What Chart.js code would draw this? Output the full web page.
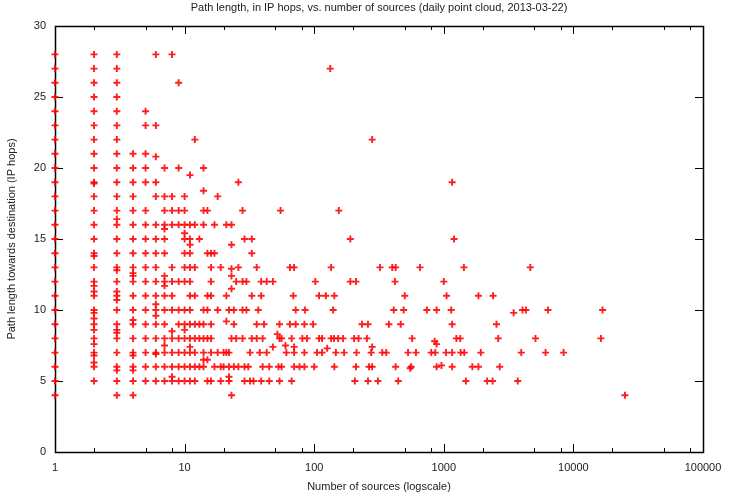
<!DOCTYPE html>
<html>
<head>
<meta charset="utf-8">
<script src="https://cdn.jsdelivr.net/npm/chart.js@4/dist/chart.umd.min.js"></script>
<style>
  html, body { margin: 0; padding: 0; background: #fff; }
  #wrap { width: 732px; height: 498px; }
</style>
</head>
<body>
<div id="wrap"><canvas id="hopsChart" width="732" height="498"></canvas></div>
<script>
// Number of sources seen at each path length (one array per hop count)
const hop28 = [1, 2, 3, 6, 8];
const hop27 = [1, 2, 3, 133];
const hop26 = [1, 2, 3, 9];
const hop25 = [1, 2, 3];
const hop24 = [1, 2, 3, 5];
const hop23 = [1, 2, 3, 5, 6];
const hop22 = [1, 2, 3, 12, 280];
const hop21 = [1, 2, 3, 4, 5];
const hop20 = [1, 2, 3, 4, 5, 7, 9, 14];
const hop19 = [1, 2, 3, 4, 5, 6, 26, 1160];
const hop18 = [1, 2, 3, 4, 6, 7, 8, 10, 18];
const hop17 = [1, 2, 3, 4, 5, 7, 8, 9, 10, 14, 15, 28, 55, 155];
const hop16 = [1, 2, 3, 4, 5, 6, 7, 8, 9, 10, 11, 12, 14, 17, 21, 23];
const hop15 = [1, 2, 3, 4, 5, 6, 7, 10, 11, 13, 29, 33, 190, 1200];
const hop14 = [1, 2, 3, 4, 5, 6, 7, 10, 11, 15, 16, 17, 33];
const hop13 = [1, 2, 3, 4, 5, 6, 8, 10, 11, 12, 16, 19, 26, 36, 65, 70, 135, 322, 400, 425, 655, 1430, 4650];
const hop12 = [1, 2, 3, 4, 5, 6, 7, 8, 9, 10, 11, 16, 25, 28, 30, 39, 43, 48, 102, 190, 210, 420, 1000];
const hop11 = [1, 2, 3, 4, 5, 6, 7, 8, 11, 12, 15, 16, 21, 33, 39, 69, 109, 123, 143, 500, 1050, 1850, 2400];
const hop10 = [1, 2, 3, 4, 5, 6, 7, 8, 9, 10, 11, 14, 15, 18, 22, 24, 28, 30, 37, 72, 85, 140, 411, 490, 740, 880, 1140, 4050, 4300, 6360, 16800];
const hop9 = [1, 2, 3, 4, 5, 6, 7, 9, 10, 11, 12, 13, 14, 16, 24, 36, 41, 54, 65, 72, 84, 98, 234, 260, 377, 465, 1160, 2550];
const hop8 = [1, 2, 3, 4, 5, 6, 7, 8, 9, 10, 11, 12, 13, 14, 15, 16, 23, 25, 28, 33, 36, 40, 54, 56, 67, 81, 88, 109, 115, 135, 142, 153, 167, 203, 220, 255, 570, 1250, 1340, 2630, 5100, 16300];
const hop7 = [1, 2, 3, 4, 5, 6, 7, 8, 9, 10, 11, 12, 14, 16, 18, 20, 21, 22, 32, 38, 43, 61, 70, 84, 105, 115, 147, 170, 212, 275, 335, 360, 530, 610, 800, 860, 1040, 1160, 1350, 1440, 1930, 3960, 6100, 8400];
const hop6 = [1, 2, 3, 4, 5, 6, 7, 8, 9, 10, 11, 12, 13, 14, 17, 19, 20, 22, 24, 26, 29, 31, 40, 45, 53, 56, 70, 77, 84, 100, 143, 210, 265, 280, 425, 560, 880, 1160, 1660, 1850, 2700];
const hop5 = [1, 2, 3, 4, 5, 6, 7, 8, 9, 10, 11, 12, 15, 16, 19, 22, 29, 32, 34, 39, 45, 54, 67, 206, 260, 310, 445, 1480, 2160, 2380, 3720];
const hop4 = [1, 3, 4, 23, 25000];

// Points with non-integer (averaged) path lengths
const oddSources = [6, 11, 14, 2, 3, 7, 10, 11, 23, 23, 4, 7, 7, 2, 23, 23, 2, 3, 6, 6, 2, 3460, 21, 2, 3, 8, 10, 52, 850, 880,
                    7, 48, 60, 70, 126, 280, 11, 2, 4, 6, 14, 15, 550, 960, 3, 4, 22, 8, 2, 2, 2, 3, 3, 4, 4, 3, 2];
const oddHops    = [20.8, 19.5, 18.4, 18.9, 16.4, 15.7, 15.4, 14.6, 14.6, 12.9, 12.4, 12.4, 11.7, 11.7, 12.4, 11.5, 11.3, 11.3, 10.4, 9.6, 9.8, 9.8, 9.2, 8.6, 8.6, 8.5, 8.6, 8.3, 7.8, 7.6,
                    7.5, 7.4, 7.5, 7.4, 7.3, 7.4, 7.4, 6.8, 6.8, 6.9, 6.5, 6.5, 5.9, 6.1, 5.75, 5.75, 5.3, 5.3, 13.8, 9.4, 6.3, 12.8, 10.7, 12.6, 9.3, 8.4, 7.6];

const hopRows = [
  [28, hop28], [27, hop27], [26, hop26], [25, hop25], [24, hop24], [23, hop23], [22, hop22],
  [21, hop21], [20, hop20], [19, hop19], [18, hop18], [17, hop17], [16, hop16], [15, hop15],
  [14, hop14], [13, hop13], [12, hop12], [11, hop11], [10, hop10], [9, hop9], [8, hop8],
  [7, hop7], [6, hop6], [5, hop5], [4, hop4]
];

// x axis tick values (labelled only at powers of ten)
const xTickValues = [1, 2, 5, 8, 10, 20, 50, 80, 100, 200, 500, 800, 1000, 2000, 5000, 8000, 10000, 20000, 50000, 80000, 100000];
const yTickValues = [0, 5, 10, 15, 20, 25, 30];

const points = [];
hopRows.forEach(([hops, sources]) => {
  sources.forEach(s => points.push({ x: s, y: hops }));
});
oddSources.forEach((s, i) => points.push({ x: s, y: oddHops[i] }));

const isDecade = v => Math.abs(Math.log10(v) - Math.round(Math.log10(v))) < 1e-9;

// Gnuplot style frame with inward ticks on all four sides
const gnuplotFrame = {
  id: 'gnuplotFrame',
  beforeDatasetsDraw(chart) {
    const { ctx, chartArea: a, scales } = chart;
    ctx.save();
    ctx.strokeStyle = '#000';
    ctx.lineWidth = 1;
    ctx.beginPath();
    scales.x.ticks.forEach(t => {
      const px = Math.round(scales.x.getPixelForValue(t.value)) + 0.5;
      const len = isDecade(t.value) ? 8 : 4;
      ctx.moveTo(px, a.bottom); ctx.lineTo(px, a.bottom - len);
      ctx.moveTo(px, a.top); ctx.lineTo(px, a.top + len);
    });
    scales.y.ticks.forEach(t => {
      const py = Math.round(scales.y.getPixelForValue(t.value)) + 0.5;
      ctx.moveTo(a.left, py); ctx.lineTo(a.left + 8, py);
      ctx.moveTo(a.right, py); ctx.lineTo(a.right - 8, py);
    });
    ctx.stroke();
    ctx.lineWidth = 1.5;
    ctx.strokeRect(Math.round(a.left) + 0.5, Math.round(a.top) + 0.5, Math.round(a.right - a.left), Math.round(a.bottom - a.top));
    ctx.restore();
  },
  afterDraw(chart) {
    const { ctx, chartArea: a } = chart;
    ctx.save();
    ctx.fillStyle = '#222';
    ctx.font = '11px "Liberation Sans", Arial, sans-serif';
    ctx.textAlign = 'center';
    ctx.textBaseline = 'middle';
    ctx.fillText('Path length, in IP hops, vs. number of sources (daily point cloud, 2013-03-22)', (a.left + a.right) / 2, 8);
    ctx.restore();
  }
};

Chart.defaults.font.family = '"Liberation Sans", Arial, sans-serif';
Chart.defaults.font.size = 11;
Chart.defaults.color = '#222';

new Chart(document.getElementById('hopsChart').getContext('2d'), {
  type: 'scatter',
  data: {
    datasets: [{
      label: 'path length',
      data: points,
      clip: false,
      pointStyle: 'cross',
      pointRadius: 3.5,
      pointBorderWidth: 1.9,
      borderColor: 'rgba(255, 0, 0, 0.88)',
      backgroundColor: 'rgba(255, 0, 0, 0.88)'
    }]
  },
  options: {
    responsive: false,
    animation: false,
    devicePixelRatio: 1,
    layout: { padding: { top: 26, right: 29, left: 0, bottom: 0 } },
    plugins: {
      legend: { display: false },
      tooltip: { enabled: false },
      title: { display: false }
    },
    scales: {
      x: {
        type: 'logarithmic',
        min: 1,
        max: 100000,
        afterBuildTicks: scale => { scale.ticks = xTickValues.map(v => ({ value: v })); },
        afterFit: scale => { scale.height = 46; },
        grid: { display: false, drawTicks: false },
        border: { display: false },
        ticks: {
          autoSkip: false,
          maxRotation: 0,
          padding: 9,
          callback: v => (isDecade(v) ? String(v) : '')
        },
        title: { display: true, text: 'Number of sources (logscale)', padding: { top: 0, bottom: 4 } }
      },
      y: {
        min: 0,
        max: 30,
        afterBuildTicks: scale => { scale.ticks = yTickValues.map(v => ({ value: v })); },
        afterFit: scale => { scale.width = 55; },
        grid: { display: false, drawTicks: false },
        border: { display: false },
        ticks: { padding: 9 },
        title: { display: true, text: 'Path length towards destination (IP hops)', padding: { top: 5, bottom: 0 } }
      }
    }
  },
  plugins: [gnuplotFrame]
});
</script>
</body>
</html>
